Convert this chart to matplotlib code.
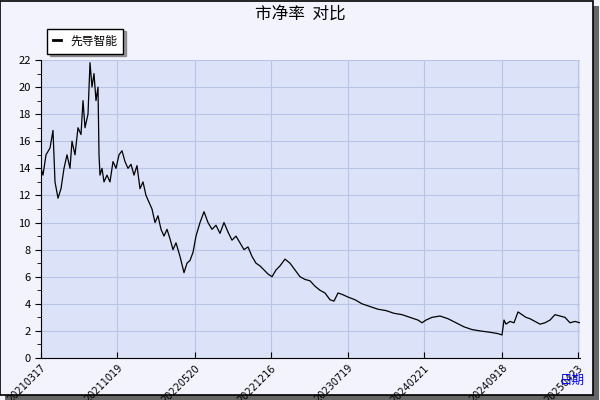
import matplotlib.pyplot as plt
from matplotlib.patches import Rectangle

plt.rcParams['font.family'] = ['Noto Sans CJK SC', 'DejaVu Sans']

# trading-day index and price/book values
day_idx = [0, 2, 5, 9, 12, 14, 17, 20, 23, 26, 29, 31, 34, 37, 40, 42, 44, 47, 49, 51, 53, 55, 57,
           58, 59, 61, 63, 66, 69, 72, 75, 78, 81, 84, 87, 90, 93, 96, 99, 102, 105, 108, 111,
           114, 117, 120, 123, 126, 129, 132, 135, 139, 143, 146, 149, 152, 155, 159, 163, 167,
           171, 175, 179, 183, 187, 191, 195, 199, 203, 207, 211, 215, 219, 223, 227, 231, 235,
           239, 244, 249, 254, 259, 264, 269, 274, 279, 284, 289, 293, 297, 301, 307, 314, 321,
           329, 337, 345, 353, 361, 369, 377, 381, 385, 391, 399, 407, 415, 423, 431, 439, 449,
           457, 461, 463, 465, 469, 473, 477, 481, 485, 489, 494, 499, 504, 509, 514, 519, 524,
           529, 534, 539]
pb_values = [14.0, 13.5, 15.0, 15.5, 16.8, 13.0, 11.8, 12.5, 14.0, 15.0, 14.0, 16.0, 15.0, 17.0,
             16.5, 19.0, 17.0, 18.0, 21.8, 20.0, 21.0, 19.0, 20.0, 15.0, 13.5, 14.0, 13.0, 13.5,
             13.0, 14.5, 14.0, 15.0, 15.3, 14.5, 14.0, 14.3, 13.5, 14.2, 12.5, 13.0, 12.0, 11.5,
             11.0, 10.0, 10.5, 9.5, 9.0, 9.5, 8.8, 8.0, 8.5, 7.5, 6.3, 7.0, 7.2, 7.8, 9.0, 10.0,
             10.8, 10.0, 9.5, 9.8, 9.2, 10.0, 9.3, 8.7, 9.0, 8.5, 8.0, 8.2, 7.5, 7.0, 6.8, 6.5,
             6.2, 6.0, 6.5, 6.8, 7.3, 7.0, 6.5, 6.0, 5.8, 5.7, 5.3, 5.0, 4.8, 4.3, 4.2, 4.8, 4.7,
             4.5, 4.3, 4.0, 3.8, 3.6, 3.5, 3.3, 3.2, 3.0, 2.8, 2.6, 2.8, 3.0, 3.1, 2.9, 2.6, 2.3,
             2.1, 2.0, 1.9, 1.8, 1.7, 2.8, 2.5, 2.7, 2.6, 3.4, 3.2, 3.0, 2.9, 2.7, 2.5, 2.6, 2.8,
             3.2, 3.1, 3.0, 2.6, 2.7, 2.6]
tick_pos = [0, 76, 154, 230, 307, 383, 461, 537]
tick_labels = ['20210317', '20211019', '20220520', '20221216', '20230719',
               '20240221', '20240918', '20250423']

fig = plt.figure(figsize=(6, 4), dpi=100, facecolor='#f2f3fc')
# frame with shadow
fig.patches.append(Rectangle((0.008, 0.0), 0.99, 0.985, transform=fig.transFigure,
                             facecolor='#666666', edgecolor='none', zorder=-2))
fig.patches.append(Rectangle((0.0, 0.012), 0.988, 0.986, transform=fig.transFigure,
                             facecolor='#f2f3fc', edgecolor='black', lw=1.2, zorder=-1))

ax = fig.add_axes([41 / 600, 42 / 400, 539 / 600, 298 / 400])
ax.set_facecolor('#dce2f7')
ax.plot(day_idx, pb_values, color='black', lw=0.9, label='先导智能')
ax.set_xlim(0, 539)
ax.set_ylim(0, 22)
ax.set_yticks(range(0, 23, 2))
ax.set_yticks(range(1, 22, 2), minor=True)
ax.set_xticks(tick_pos)
ax.set_xticklabels(tick_labels, rotation=45, ha='right', rotation_mode='anchor', fontsize=7,
                   family='DejaVu Sans')
ax.tick_params(axis='y', labelsize=8, length=4)
ax.tick_params(axis='y', which='minor', length=3)
ax.tick_params(axis='x', direction='in', length=4)
ax.grid(True, color='#b8c4e8', lw=0.8)
for s in ['top', 'right']:
    ax.spines[s].set_visible(False)

fig.text(0.5, 0.965, '市净率  对比', ha='center', va='center', fontsize=12)
fig.text(0.975, 0.05, '日期', ha='right', va='center', fontsize=9, color='#0000ee')
leg = ax.legend(loc='lower left', bbox_to_anchor=(0.0, 1.002), fontsize=8.5, frameon=True,
                fancybox=False, shadow=True, handlelength=0.7, borderpad=0.5)
leg.get_frame().set_edgecolor('black')
for h in leg.get_lines():
    h.set_linewidth(2)

fig.savefig('out.png', dpi=100, facecolor=fig.get_facecolor())
